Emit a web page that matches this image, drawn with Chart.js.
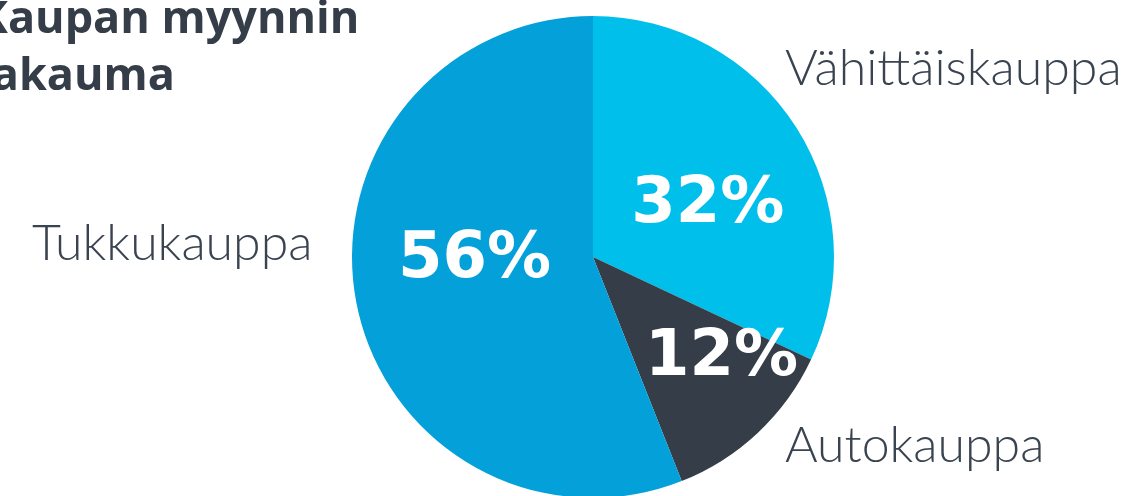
<!DOCTYPE html>
<html lang="fi">
<head>
<meta charset="utf-8">
<title>Kaupan myynnin jakauma</title>
<script src="https://cdn.jsdelivr.net/npm/chart.js@4"></script>
<style>
  html, body { margin: 0; padding: 0; background: #fff; overflow: hidden; }
  #wrap { position: absolute; left: 0; top: 0; width: 1134px; height: 500px; }
</style>
</head>
<body>
<div id="wrap"><canvas id="salesPie"></canvas></div>
<script>
// Sales split by trade sector
const sectors = ['Vähittäiskauppa', 'Autokauppa', 'Tukkukauppa'];
const shares = [32, 12, 56];
const sectorColors = ['#00bfea', '#343d48', '#04a0d9'];
const titleLines = ['Kaupan myynnin', 'jakauma'];

// Where each sector name sits, and how far each % label is nudged from the slice centroid
const nameSpots = [
  { x: 785, y: 85 },
  { x: 785, y: 462 },
  { x: 32, y: 260 }
];
const pctNudge = [
  { dx: 13, dy: 30 },
  { dx: 46, dy: 30 },
  { dx: 0, dy: -3 }
];

const textColor = '#3a4450';

// Draws the heading, the sector names and the percentages on the slices
const pieText = {
  id: 'pieText',
  afterDatasetsDraw(chart) {
    const ctx = chart.ctx;
    const arcs = chart.getDatasetMeta(0).data;
    ctx.save();

    ctx.fillStyle = '#343d48';
    ctx.textAlign = 'left';
    ctx.textBaseline = 'alphabetic';
    ctx.font = 'bold 45px "Open Sans"';
    titleLines.forEach((line, i) => ctx.fillText(line, -22, 33 + i * 57));

    ctx.fillStyle = textColor;
    ctx.font = '300 50px Lato';
    sectors.forEach((name, i) => ctx.fillText(name, nameSpots[i].x, nameSpots[i].y));

    ctx.fillStyle = '#fff';
    ctx.textAlign = 'center';
    ctx.font = 'bold 64px "DejaVu Sans"';
    arcs.forEach((arc, i) => {
      const pos = arc.tooltipPosition();
      ctx.fillText(shares[i] + '%', pos.x + pctNudge[i].dx, pos.y + pctNudge[i].dy);
    });

    ctx.restore();
  }
};

const ctx = document.getElementById('salesPie').getContext('2d');
const salesChart = new Chart(ctx, {
  type: 'pie',
  data: {
    labels: sectors,
    datasets: [{
      data: shares,
      backgroundColor: sectorColors,
      borderWidth: 0
    }]
  },
  options: {
    responsive: true,
    maintainAspectRatio: false,
    animation: false,
    layout: { padding: { left: 52, right: 0, top: 16, bottom: 2 } },
    plugins: {
      legend: { display: false },
      tooltip: { enabled: false }
    }
  },
  plugins: [pieText]
});
</script>
</body>
</html>
